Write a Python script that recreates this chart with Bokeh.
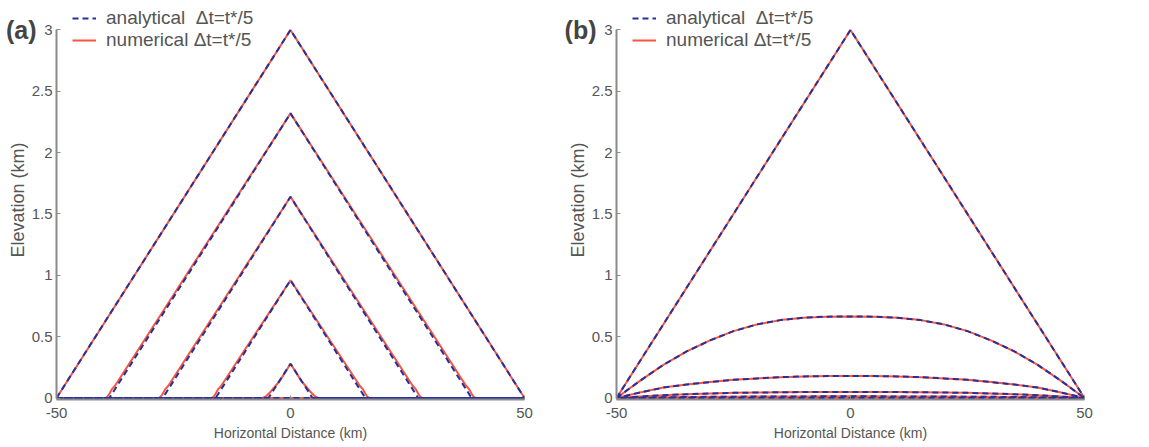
from bokeh.plotting import figure
from bokeh.layouts import row
from bokeh.models import Range1d, FixedTicker, Legend, LegendItem, LinearAxis
from bokeh.embed import file_html
from bokeh.resources import INLINE

# ---------------- data ----------------
x_ticks = [-50, 0, 50]
x_tick_labels = ["-50", "0", "50"]
y_ticks = [0, 0.5, 1, 1.5, 2, 2.5, 3]
y_tick_labels = ["0", "0.5", "1", "1.5", "2", "2.5", "3"]

# panel (a): retreating triangular ridges
a_peaks = [3.0, 2.32, 1.64, 0.96, 0.28]
a_half_widths = [50.0, 38.7, 27.3, 16.0, 4.7]
# numerical solution: rounded foot, relative to the analytic foot (km, km)
a_num_foot_dx = [0.9, 0.4, 0.0, -0.5, -1.2]
a_num_foot_y = [0.0, 0.012, 0.035, 0.07, 0.10]
# smallest ridge, numerical (left half, mirrored)
a_small_num_x = [-6.0, -5.2, -4.4, -3.4, -2.3, 0.0]
a_small_num_y = [0.0, 0.015, 0.045, 0.09, 0.14, 0.28]

# panel (b): diffusing ridge between fixed ends
b_x = [-50, -45, -40, -35, -30, -25, -20, -15, -10, -5, 0,
       5, 10, 15, 20, 25, 30, 35, 40, 45, 50]
b_tri_x = [-50, 0, 50]
b_tri_y = [0.0, 3.0, 0.0]
b_c1 = [0.0, 0.14, 0.27, 0.38, 0.47, 0.545, 0.60, 0.635, 0.655, 0.663, 0.665,
        0.663, 0.655, 0.635, 0.60, 0.545, 0.47, 0.38, 0.27, 0.14, 0.0]
b_c2 = [0.0, 0.045, 0.085, 0.11, 0.13, 0.148, 0.16, 0.17, 0.176, 0.179, 0.18,
        0.179, 0.176, 0.17, 0.16, 0.148, 0.13, 0.11, 0.085, 0.045, 0.0]
b_c3 = [0.0, 0.012, 0.023, 0.031, 0.037, 0.042, 0.045, 0.047, 0.049, 0.05, 0.05,
        0.05, 0.049, 0.047, 0.045, 0.042, 0.037, 0.031, 0.023, 0.012, 0.0]
b_c4 = [0.0, 0.003, 0.006, 0.008, 0.01, 0.011, 0.012, 0.013, 0.013, 0.014, 0.014,
        0.014, 0.013, 0.013, 0.012, 0.011, 0.01, 0.008, 0.006, 0.003, 0.0]
b_c5 = [0.0] * 21

legend_labels = ["analytical  \u0394t=t*/5", "numerical \u0394t=t*/5"]
panel_labels = ["(a)", "(b)"]

# ---------------- style ----------------
BLUE = "#27309a"
RED = "#f85540"
GREY_TXT = "#555555"
AXIS = "#8a8a8a"
FONT = "Liberation Sans"
LW = 2
DASH = "6 4"


def make_fig(width, panel_label):
    p = figure(width=width, height=447, output_backend="svg", toolbar_location=None,
               x_range=Range1d(-50, 50), y_range=Range1d(-0.012, 3.24),
               min_border_left=56, min_border_right=width - 56 - 468,
               min_border_top=0, min_border_bottom=48)
    p.outline_line_color = None
    p.xgrid.visible = False
    p.ygrid.visible = False
    p.background_fill_color = "white"
    p.border_fill_color = "white"
    for ax in (p.xaxis[0], p.yaxis[0]):
        ax.axis_line_color = AXIS
        ax.axis_line_width = 2
        ax.major_tick_in = 4
        ax.major_tick_out = 0
        ax.major_tick_line_color = AXIS
        ax.minor_tick_line_color = None
        ax.major_label_text_font = FONT
        ax.major_label_text_font_size = "15px"
        ax.major_label_text_color = GREY_TXT
        ax.axis_label_text_font = FONT
        ax.axis_label_text_font_style = "normal"
        ax.axis_label_text_color = GREY_TXT
    p.xaxis.axis_label_text_font_size = "14px"
    p.yaxis.axis_label_text_font_size = "18px"
    p.yaxis.bounds = (0, 3)
    p.xaxis.ticker = FixedTicker(ticks=x_ticks)
    p.xaxis.major_label_overrides = dict(zip(x_ticks, x_tick_labels))
    p.yaxis.ticker = FixedTicker(ticks=y_ticks)
    p.yaxis.major_label_overrides = dict(zip(y_ticks, y_tick_labels))
    p.xaxis.axis_label = "Horizontal Distance (km)"
    p.yaxis.axis_label = "Elevation (km)"
    p.xaxis.major_label_standoff = 8
    p.xaxis.axis_label_standoff = 4
    p.yaxis.major_label_standoff = 4
    p.yaxis.axis_label_standoff = 1
    # panel letter: an outer left axis with a single labelled tick at the top
    tag_ax = LinearAxis(ticker=FixedTicker(ticks=[y_ticks[-1]]),
                        major_label_overrides={y_ticks[-1]: panel_label})
    tag_ax.axis_line_color = None
    tag_ax.major_tick_line_color = None
    tag_ax.minor_tick_line_color = None
    tag_ax.major_tick_in = 0
    tag_ax.major_tick_out = 0
    tag_ax.major_label_standoff = -32
    tag_ax.major_label_text_font = FONT
    tag_ax.major_label_text_font_size = "25px"
    tag_ax.major_label_text_font_style = "bold"
    tag_ax.major_label_text_color = "#444444"
    p.add_layout(tag_ax, "left")
    return p


def add_legend(p, r_blue, r_red):
    leg = Legend(items=[LegendItem(label=legend_labels[0], renderers=[r_blue]),
                        LegendItem(label=legend_labels[1], renderers=[r_red])],
                 location=(16, 348))
    leg.background_fill_alpha = 0
    leg.border_line_color = None
    leg.label_text_font = FONT
    leg.label_text_font_size = "19px"
    leg.label_text_color = GREY_TXT
    leg.glyph_width = 24
    leg.label_standoff = 10
    leg.spacing = 0
    leg.padding = 2
    leg.margin = 0
    leg.label_height = 18
    leg.glyph_height = 18
    p.add_layout(leg)


# ---------------- panel (a) ----------------
pa = make_fig(560, panel_labels[0])
blue_first = None
red_first = None
for i, (h, w) in enumerate(zip(a_peaks, a_half_widths)):
    if i == 0:
        nx = [-50, 0, 50]
        ny = [0, h, 0]
    elif i == len(a_peaks) - 1:
        nx = [-50] + a_small_num_x + [-v for v in a_small_num_x[::-1][1:]] + [50]
        ny = [0] + a_small_num_y + a_small_num_y[::-1][1:] + [0]
    else:
        left_x = [-w - d for d in a_num_foot_dx]
        left_y = list(a_num_foot_y)
        nx = [-50] + left_x + [0] + [-v for v in left_x[::-1]] + [50]
        ny = [0] + left_y + [h] + left_y[::-1] + [0]
    r = pa.line(nx, ny, line_color=RED, line_width=LW)
    if red_first is None:
        red_first = r
pa.line([-50, 50], [0, 0], line_color=RED, line_width=LW)
for h, w in zip(a_peaks, a_half_widths):
    b = pa.line([-50, -w, 0, w, 50], [0, 0, h, 0, 0], line_color=BLUE,
                line_width=LW, line_dash=DASH)
    if blue_first is None:
        blue_first = b
pa.line([-50, 50], [0, 0], line_color=BLUE, line_width=LW, line_dash=DASH,
        line_dash_offset=3)
add_legend(pa, blue_first, red_first)

# ---------------- panel (b) ----------------
pb = make_fig(589, panel_labels[1])
red_first = pb.line(b_tri_x, b_tri_y, line_color=RED, line_width=LW)
for c in (b_c1, b_c2, b_c3, b_c4, b_c5):
    pb.line(b_x, c, line_color=RED, line_width=LW)
blue_first = pb.line(b_tri_x, b_tri_y, line_color=BLUE, line_width=LW, line_dash=DASH)
for k, c in enumerate((b_c1, b_c2, b_c3, b_c4, b_c5)):
    pb.line(b_x, c, line_color=BLUE, line_width=LW, line_dash=DASH,
            line_dash_offset=k * 2)
add_legend(pb, blue_first, red_first)

layout = row(pa, pb)
open("out.html", "w").write(file_html(layout, INLINE))
